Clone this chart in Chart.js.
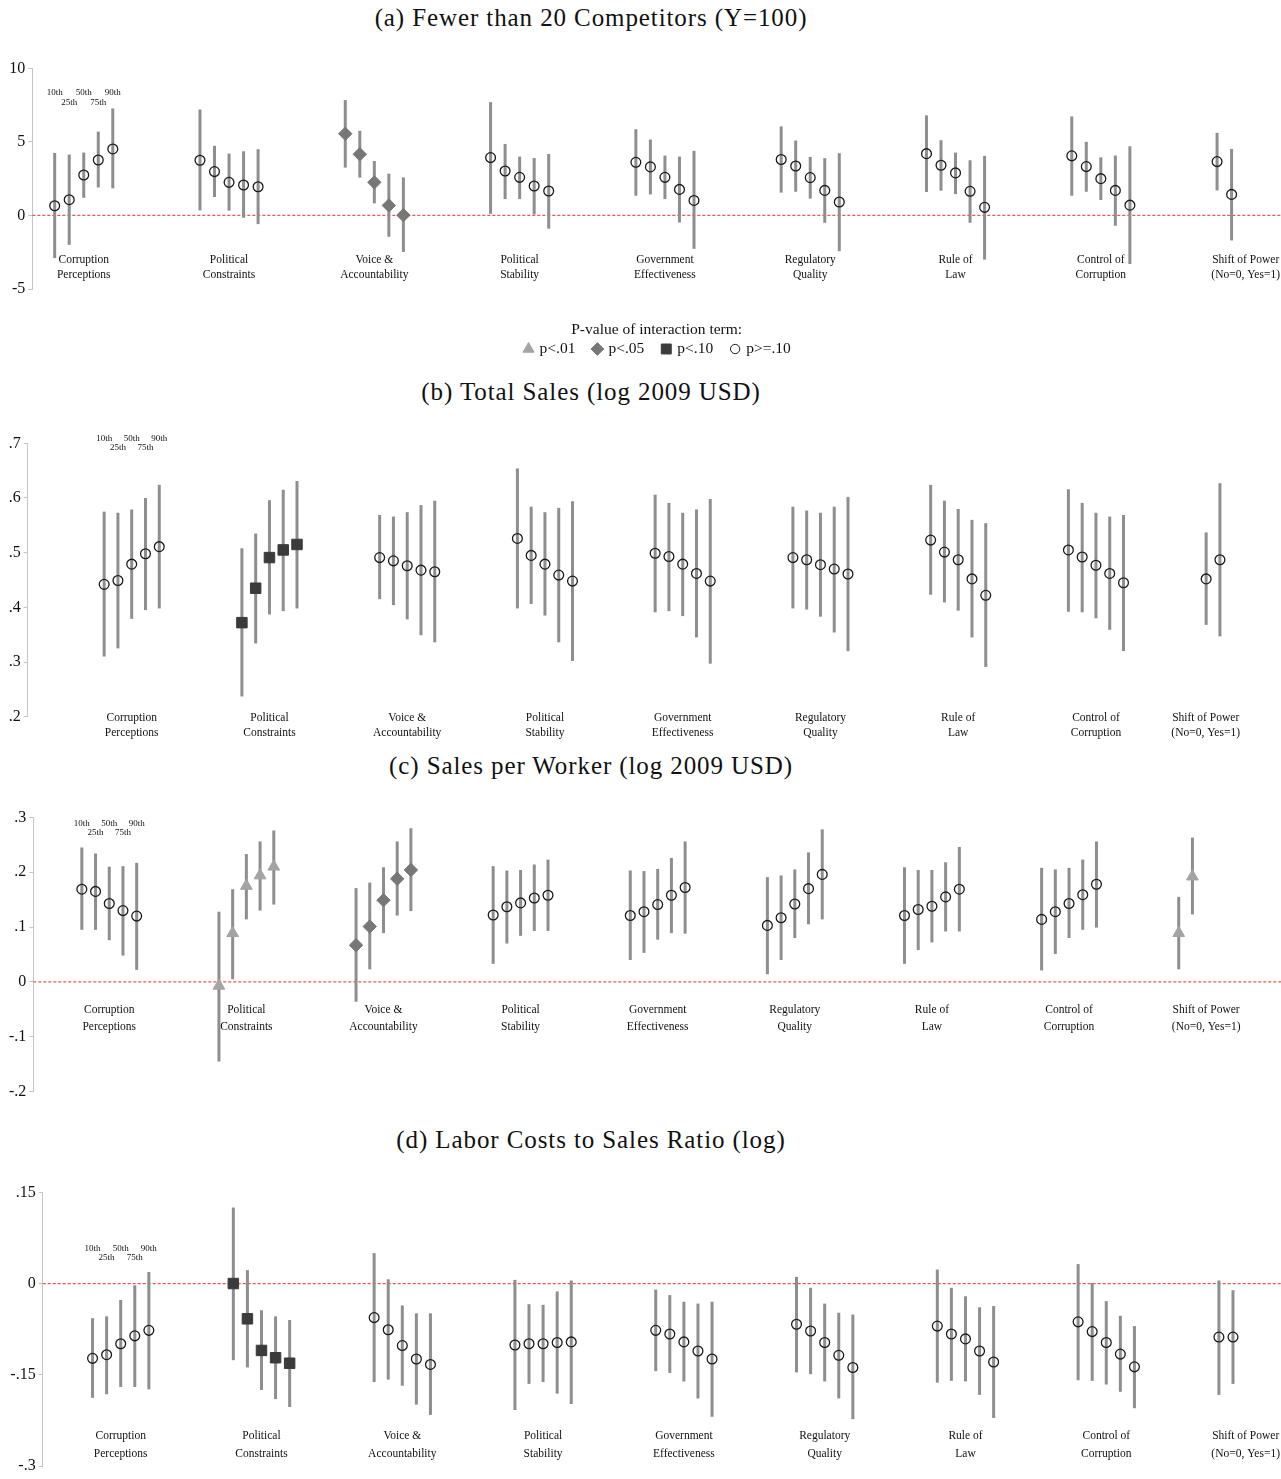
<!DOCTYPE html>
<html>
<head>
<meta charset="utf-8">
<script src="https://cdn.jsdelivr.net/npm/chart.js@4.4.1/dist/chart.umd.min.js"></script>
<style>
  html, body { margin: 0; padding: 0; background: #fff; }
  #page { position: relative; width: 1281px; height: 1479px; overflow: hidden; }
  .ttl { position: absolute; left: 0; width: 1182px; text-align: center;
         font-family: 'Liberation Serif', serif; font-size: 25px; line-height: 28px;
         color: #111; letter-spacing: 0.9px; white-space: nowrap; }
  canvas { position: absolute; left: 0; }
</style>
</head>
<body>
<div id="page">
  <div class="ttl" style="top:4px">(a) Fewer than 20 Competitors (Y=100)</div>
  <canvas id="chA" width="1281" height="330" style="top:40px"></canvas>
  <div class="ttl" style="top:378px">(b) Total Sales (log 2009 USD)</div>
  <canvas id="chB" width="1281" height="345" style="top:405px"></canvas>
  <div class="ttl" style="top:752px">(c) Sales per Worker (log 2009 USD)</div>
  <canvas id="chC" width="1281" height="320" style="top:785px"></canvas>
  <div class="ttl" style="top:1126px">(d) Labor Costs to Sales Ratio (log)</div>
  <canvas id="chD" width="1281" height="321" style="top:1158px"></canvas>
</div>
<script>
// categories (two-line labels) and percentile tags
const groupLabels = [
  ['Corruption', 'Perceptions'], ['Political', 'Constraints'], ['Voice &', 'Accountability'],
  ['Political', 'Stability'], ['Government', 'Effectiveness'], ['Regulatory', 'Quality'],
  ['Rule of', 'Law'], ['Control of', 'Corruption'], ['Shift of Power', '(No=0, Yes=1)']
];
const pctLabels = ['10th', '25th', '50th', '75th', '90th'];

// p-value classes: t = p<.01, d = p<.05, s = p<.10, o = p>=.10
const pClasses = ['t', 'd', 's', 'o'];
const pLegend = ['p<.01', 'p<.05', 'p<.10', 'p>=.10'];

// (a) Fewer than 20 competitors
const estA = [[0.66,1.07,2.75,3.77,4.52],[3.75,2.98,2.25,2.07,1.95],[5.55,4.16,2.25,0.68,0.02],
  [3.93,3.02,2.59,2.0,1.66],[3.61,3.3,2.59,1.77,1.02],[3.8,3.36,2.57,1.7,0.91],
  [4.2,3.41,2.89,1.64,0.55],[4.05,3.32,2.5,1.7,0.7],[3.66,1.43]];
const loA = [[-2.9,-2.0,1.2,1.9,1.84],[0.34,1.25,0.32,-0.16,-0.59],[3.25,2.57,0.82,-1.45,-2.48],
  [0.11,1.11,1.11,0.07,-0.9],[1.34,1.43,1.11,-0.48,-2.27],[1.55,1.61,1.14,-0.5,-2.43],
  [1.59,1.68,1.45,-0.5,-3.0],[1.34,1.61,1.05,-0.7,-3.3],[1.7,-1.7]];
const hiA = [[4.25,4.14,4.27,5.7,7.27],[7.2,4.73,4.2,4.36,4.5],[7.84,5.75,3.7,2.84,2.59],
  [7.7,4.86,4.0,3.9,4.18],[5.86,5.16,4.07,4.0,4.39],[6.05,5.09,3.98,3.89,4.23],
  [6.8,5.11,4.27,3.75,4.05],[6.73,5.0,3.95,4.07,4.7],[5.61,4.52]];
const sigA = ['o','o','d','o','o','o','o','o','o'];
const yTicksA = [-5, 0, 5, 10];

// (b) Total sales
const estB = [[0.442,0.449,0.479,0.498,0.511],[0.372,0.435,0.491,0.505,0.515],[0.491,0.485,0.476,0.468,0.465],
  [0.526,0.495,0.479,0.459,0.448],[0.499,0.493,0.479,0.462,0.448],[0.491,0.487,0.478,0.470,0.461],
  [0.523,0.501,0.487,0.452,0.422],[0.505,0.492,0.477,0.462,0.445],[0.452,0.487]];
const loB = [[0.310,0.325,0.379,0.395,0.398],[0.237,0.334,0.387,0.393,0.398],[0.415,0.404,0.378,0.349,0.336],
  [0.398,0.406,0.385,0.336,0.302],[0.391,0.393,0.384,0.345,0.297],[0.398,0.396,0.383,0.354,0.320],
  [0.423,0.409,0.394,0.345,0.291],[0.392,0.391,0.380,0.359,0.320],[0.368,0.347]];
const hiB = [[0.575,0.573,0.579,0.600,0.624],[0.508,0.535,0.596,0.615,0.631],[0.569,0.566,0.574,0.587,0.595],
  [0.654,0.584,0.574,0.582,0.594],[0.606,0.591,0.573,0.579,0.598],[0.584,0.577,0.573,0.584,0.602],
  [0.624,0.595,0.580,0.560,0.554],[0.616,0.591,0.573,0.566,0.569],[0.537,0.627]];
const sigB = ['o','s','o','o','o','o','o','o','o'];
const yTicksB = [0.2, 0.3, 0.4, 0.5, 0.6, 0.7];

// (c) Sales per worker
const estC = [[0.169,0.165,0.143,0.130,0.120],[-0.007,0.089,0.175,0.194,0.210],[0.067,0.101,0.149,0.188,0.204],
  [0.122,0.137,0.144,0.153,0.158],[0.121,0.128,0.141,0.158,0.172],[0.103,0.117,0.142,0.170,0.196],
  [0.121,0.132,0.138,0.155,0.169],[0.114,0.128,0.143,0.159,0.178],[0.089,0.192]];
const loC = [[0.095,0.095,0.076,0.048,0.022],[-0.145,0.005,0.114,0.130,0.141],[-0.036,0.023,0.089,0.121,0.129],
  [0.033,0.070,0.084,0.093,0.093],[0.040,0.053,0.077,0.089,0.088],[0.014,0.040,0.080,0.105,0.114],
  [0.033,0.058,0.072,0.092,0.092],[0.021,0.051,0.080,0.095,0.099],[0.023,0.123]];
const hiC = [[0.245,0.234,0.210,0.211,0.217],[0.128,0.169,0.233,0.256,0.276],[0.171,0.181,0.209,0.256,0.280],
  [0.211,0.203,0.204,0.214,0.223],[0.203,0.202,0.206,0.226,0.256],[0.191,0.194,0.205,0.236,0.278],
  [0.209,0.204,0.204,0.218,0.246],[0.208,0.205,0.208,0.223,0.256],[0.155,0.263]];
const sigC = ['o','t','d','o','o','o','o','o','t'];
const yTicksC = [-0.2, -0.1, 0, 0.1, 0.2, 0.3];

// (d) Labor costs to sales ratio
const estD = [[-0.123,-0.117,-0.099,-0.086,-0.077],[0.0,-0.058,-0.110,-0.122,-0.131],[-0.056,-0.076,-0.102,-0.124,-0.133],
  [-0.101,-0.099,-0.099,-0.097,-0.096],[-0.077,-0.083,-0.096,-0.111,-0.124],[-0.067,-0.078,-0.097,-0.118,-0.138],
  [-0.070,-0.083,-0.091,-0.111,-0.129],[-0.063,-0.079,-0.097,-0.116,-0.137],[-0.088,-0.088]];
const loD = [[-0.188,-0.182,-0.170,-0.170,-0.174],[-0.126,-0.138,-0.175,-0.190,-0.203],[-0.162,-0.158,-0.168,-0.199,-0.216],
  [-0.208,-0.165,-0.162,-0.181,-0.198],[-0.144,-0.147,-0.161,-0.189,-0.219],[-0.146,-0.149,-0.161,-0.189,-0.223],
  [-0.163,-0.160,-0.161,-0.183,-0.221],[-0.159,-0.160,-0.166,-0.178,-0.205],[-0.183,-0.165]];
const hiD = [[-0.057,-0.054,-0.027,-0.003,0.019],[0.125,0.022,-0.044,-0.054,-0.060],[0.050,0.007,-0.036,-0.049,-0.049],
  [0.006,-0.034,-0.035,-0.013,0.005],[-0.010,-0.019,-0.030,-0.033,-0.030],[0.011,-0.007,-0.033,-0.048,-0.051],
  [0.023,-0.007,-0.021,-0.039,-0.037],[0.032,0.001,-0.029,-0.053,-0.070],[0.005,-0.011]];
const sigD = ['o','s','o','o','o','o','o','o','o'];
const yTicksD = [-0.3, -0.15, 0, 0.15];

// marker look per p-value class
const markers = {
  t: { pointStyle: 'triangle', radius: 6.8, fill: '#a4a4a4', stroke: '#a4a4a4', width: 1 },
  d: { pointStyle: 'rectRot',  radius: 6.7, fill: '#777777', stroke: '#777777', width: 1 },
  s: { pointStyle: 'rect',     radius: 7.4, fill: '#3b3b3b', stroke: '#3b3b3b', width: 1 },
  o: { pointStyle: 'circle',   radius: 4.9, fill: 'rgba(0,0,0,0)', stroke: '#1a1a1a', width: 1.3 }
};

const serif = '"Liberation Serif", "Times New Roman", serif';

function fmtTick(v) {
  if (Math.abs(v) < 1e-9) return '0';
  return String(+v.toFixed(3)).replace('0.', '.');
}

// slot position inside a group: 5 percentiles spaced 0.1 apart around the group centre
const slotX = (g, i) => g + (i - 2) * 0.1;

function buildDatasets(est, lo, hi, sig) {
  return pClasses.map((cls, k) => {
    const pts = [];
    est.forEach((grp, g) => {
      if (sig[g] !== cls) return;
      grp.forEach((v, i) => pts.push({ x: slotX(g, i), y: v, lo: lo[g][i], hi: hi[g][i] }));
    });
    const m = markers[cls];
    return {
      label: pLegend[k], data: pts, showLine: false,
      pointStyle: m.pointStyle, pointRadius: m.radius,
      pointBackgroundColor: m.fill, pointBorderColor: m.stroke, pointBorderWidth: m.width,
      backgroundColor: m.fill, borderColor: m.stroke
    };
  });
}

function makePanel(p) {
  const ciPlugin = {
    id: 'ci_' + p.id,
    beforeDatasetsDraw(chart) {
      const { ctx, chartArea: a, scales: { x, y } } = chart;
      ctx.save();
      if (p.zero) {
        const y0 = y.getPixelForValue(0);
        ctx.strokeStyle = '#f05555';
        ctx.lineWidth = 1.3;
        ctx.setLineDash([3, 2]);
        ctx.beginPath(); ctx.moveTo(a.left, y0); ctx.lineTo(a.right, y0); ctx.stroke();
        ctx.setLineDash([]);
      }
      ctx.strokeStyle = '#8e8e8e';
      ctx.lineWidth = 3;
      chart.data.datasets.forEach(ds => ds.data.forEach(d => {
        const px = x.getPixelForValue(d.x);
        ctx.beginPath();
        ctx.moveTo(px, y.getPixelForValue(d.lo));
        ctx.lineTo(px, y.getPixelForValue(d.hi));
        ctx.stroke();
      }));
      ctx.restore();
    },
    afterDraw(chart) {
      const { ctx, chartArea: a, scales: { x, y } } = chart;
      ctx.save();
      ctx.fillStyle = '#111';
      ctx.textAlign = 'center';
      ctx.textBaseline = 'middle';
      // category labels
      ctx.font = '11.5px ' + serif;
      const y1 = y.getPixelForValue(p.labelY);
      groupLabels.forEach((lines, g) => {
        const w = Math.max(...lines.map(t => ctx.measureText(t).width));
        const cx = Math.min(x.getPixelForValue(g), a.right - w / 2 - 1);
        lines.forEach((t, i) => ctx.fillText(t, cx, y1 + i * p.lineGap));
      });
      // percentile tags over first group
      ctx.font = '9px ' + serif;
      pctLabels.forEach((t, i) => {
        ctx.fillText(t, x.getPixelForValue(slotX(0, i)), y.getPixelForValue(p.pctY[i % 2]));
      });
      // p-value legend
      if (p.legend) {
        const cx = (a.left + a.right) / 2;
        ctx.font = '15.5px ' + serif;
        ctx.fillText('P-value of interaction term:', cx, a.bottom + 41);
        const gap = 5, itemGap = 16, mw = 12;
        const widths = pLegend.map(t => mw + gap + ctx.measureText(t).width);
        const total = widths.reduce((s, w) => s + w, 0) + itemGap * (pLegend.length - 1);
        let left = cx - total / 2;
        const iy = a.bottom + 60;
        pClasses.forEach((cls, k) => {
          const m = markers[cls];
          ctx.fillStyle = m.fill; ctx.strokeStyle = m.stroke;
          Chart.helpers.drawPoint(ctx, { pointStyle: m.pointStyle, radius: m.radius * 0.95,
            borderWidth: m.width, rotation: 0 }, left + mw / 2, iy);
          ctx.fillStyle = '#111';
          ctx.textAlign = 'left';
          ctx.fillText(pLegend[k], left + mw + gap, iy);
          left += widths[k] + itemGap;
        });
      }
      ctx.restore();
    }
  };

  return new Chart(document.getElementById(p.id), {
    type: 'scatter',
    data: { datasets: buildDatasets(p.est, p.lo, p.hi, p.sig) },
    options: {
      responsive: false,
      animation: false,
      events: [],
      layout: { autoPadding: false, padding: { top: p.pad.top, bottom: p.pad.bottom, right: p.pad.right, left: 0 } },
      plugins: { legend: { display: false }, tooltip: { enabled: false } },
      scales: {
        x: { type: 'linear', min: p.xMin, max: p.xMax, display: false },
        y: {
          type: 'linear', min: p.yTicks[0], max: p.yTicks[p.yTicks.length - 1],
          afterFit: s => { s.width = p.axisX; },
          afterBuildTicks: s => { s.ticks = p.yTicks.map(v => ({ value: v })); },
          grid: { drawOnChartArea: false, drawTicks: true, tickLength: 4, color: '#c4c4c4' },
          border: { display: true, color: '#c4c4c4', width: 1 },
          ticks: { padding: 3, color: '#111', font: { family: serif, size: 16 }, callback: v => fmtTick(v) }
        }
      }
    },
    plugins: [ciPlugin]
  });
}

[
  { id: 'chA', est: estA, lo: loA, hi: hiA, sig: sigA, yTicks: yTicksA, xMin: -0.354, xMax: 8.24,
    axisX: 32.3, pad: { top: 28.3, bottom: 81, right: 0 }, zero: true,
    labelY: -3, lineGap: 15, pctY: [8.34, 7.69], legend: true },
  { id: 'chB', est: estB, lo: loB, hi: hiB, sig: sigB, yTicks: yTicksB, xMin: -0.755, xMax: 8.053,
    axisX: 27.7, pad: { top: 38.3, bottom: 33.3, right: 40 }, zero: false,
    labelY: 0.198, lineGap: 15.6, pctY: [0.709, 0.6927] },
  { id: 'chC', est: estC, lo: loC, hi: hiC, sig: sigC, yTicks: yTicksC, xMin: -0.554, xMax: 8.546,
    axisX: 33.3, pad: { top: 32.3, bottom: 13.3, right: 0 }, zero: true,
    labelY: -0.0512, lineGap: 16.7, pctY: [0.289, 0.2729] },
  { id: 'chD', est: estD, lo: loD, hi: hiD, sig: sigD, yTicks: yTicksD, xMin: -0.554, xMax: 8.241,
    axisX: 42.7, pad: { top: 34.3, bottom: 13, right: 0 }, zero: true,
    labelY: -0.2507, lineGap: 18, pctY: [0.0579, 0.0424] }
].forEach(makePanel);
</script>
</body>
</html>
